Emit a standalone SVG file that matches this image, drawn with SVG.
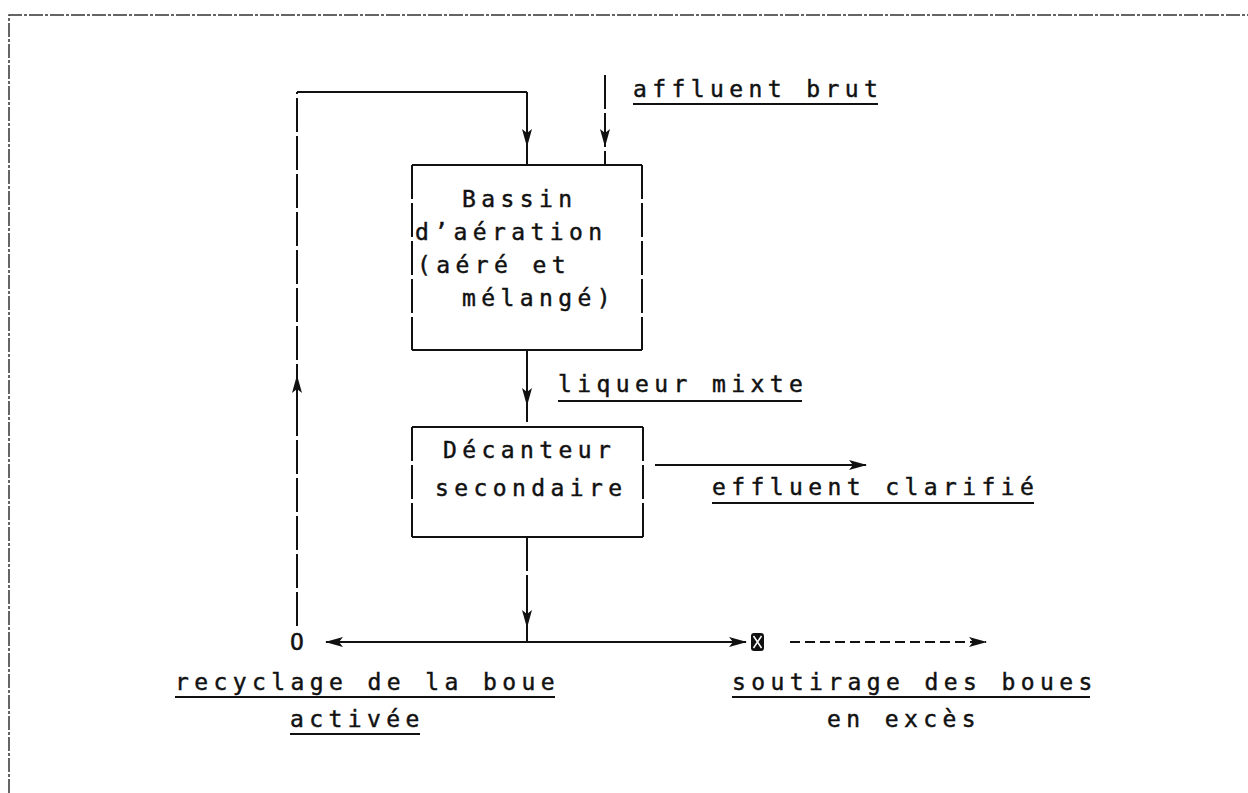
<svg xmlns="http://www.w3.org/2000/svg" width="1248" height="793" viewBox="0 0 1248 793">
<style>
text{font-family:"DejaVu Sans Mono","Liberation Mono",monospace;font-size:23px;letter-spacing:5.4px;fill:#111;stroke:#111;stroke-width:0.45}
.ln{stroke:#111;stroke-width:2;fill:none}
.dv{stroke:#111;stroke-width:2;fill:none;stroke-dasharray:34 4}
.dsh{stroke:#111;stroke-width:2;fill:none;stroke-dasharray:10 5}
.ul{stroke:#111;stroke-width:2}
.frame{stroke:#333;stroke-width:1.5;fill:none;stroke-dasharray:14 2 3 2}
</style>
<defs>
<marker id="ah" viewBox="0 0 18 10" refX="17" refY="5" markerWidth="18" markerHeight="10" markerUnits="userSpaceOnUse" orient="auto">
<path d="M0,0 L18,5 L0,10 L4,5 z" fill="#111"/>
</marker>
</defs>
<g id="frame"><path class="frame" d="M9,793 V15 H1248"/></g>
<g id="connectors">
<path class="dv" d="M297,626 V92"/>
<path class="ln" d="M297,92 H527"/>
<path class="dv" d="M527,92 V165"/>
<path class="ln" d="M527,118 V146" marker-end="url(#ah)"/>
<path class="dv" d="M605,75 V165"/>
<path class="ln" d="M605,118 V146" marker-end="url(#ah)"/>
<path class="ln" d="M297,410 V376" marker-end="url(#ah)"/>
<path class="dv" d="M527,350 V427"/>
<path class="ln" d="M527,375 V405" marker-end="url(#ah)"/>
<path class="ln" d="M655,465 H866" marker-end="url(#ah)"/>
<path class="dv" d="M527,537 V642"/>
<path class="ln" d="M527,595 V627" marker-end="url(#ah)"/>
<path class="ln" d="M527,642 H326" marker-end="url(#ah)"/>
<path class="ln" d="M527,642 H746" marker-end="url(#ah)"/>
<path class="dsh" d="M790,642 H986" marker-end="url(#ah)"/>
</g>
<g id="bassin">
<path class="ln" d="M412,165 H642 M412,350 H642"/>
<path class="dv" d="M412,165 V350 M642,165 V350"/>
<text x="462" y="207">Bassin</text>
<text x="415" y="240">d’aération</text>
<text x="417" y="273">(aéré et</text>
<text x="462" y="306">mélangé)</text>
</g>
<g id="decanteur">
<path class="ln" d="M412,427 H643 M412,537 H643"/>
<path class="dv" d="M412,427 V537 M643,427 V537"/>
<text x="443" y="458">Décanteur</text>
<text x="435" y="496">secondaire</text>
</g>
<g id="affluent">
<text x="633" y="97">affluent brut</text>
<line class="ul" x1="633" y1="104" x2="878" y2="104"/>
</g>
<g id="liqueur">
<text x="558" y="392">liqueur mixte</text>
<line class="ul" x1="558" y1="401" x2="802" y2="401"/>
</g>
<g id="effluent">
<text x="712" y="495">effluent clarifié</text>
<line class="ul" x1="712" y1="503" x2="1034" y2="503"/>
</g>
<g id="recyclage">
<text x="290" y="650">O</text>
<text x="175" y="690">recyclage de la boue</text>
<line class="ul" x1="175" y1="697" x2="555" y2="697"/>
<text x="290" y="727">activée</text>
<line class="ul" x1="290" y1="734" x2="420" y2="734"/>
</g>
<g id="soutirage">
<g id="vanne"><rect x="751" y="633" width="13" height="18" rx="3" fill="#111"/><path d="M753.5,636 L761.5,648 M761.5,636 L753.5,648" stroke="#fff" stroke-width="1.5"/></g>
<text x="732" y="690">soutirage des boues</text>
<line class="ul" x1="732" y1="697" x2="1090" y2="697"/>
<text x="827" y="727">en excès</text>
</g>
</svg>
